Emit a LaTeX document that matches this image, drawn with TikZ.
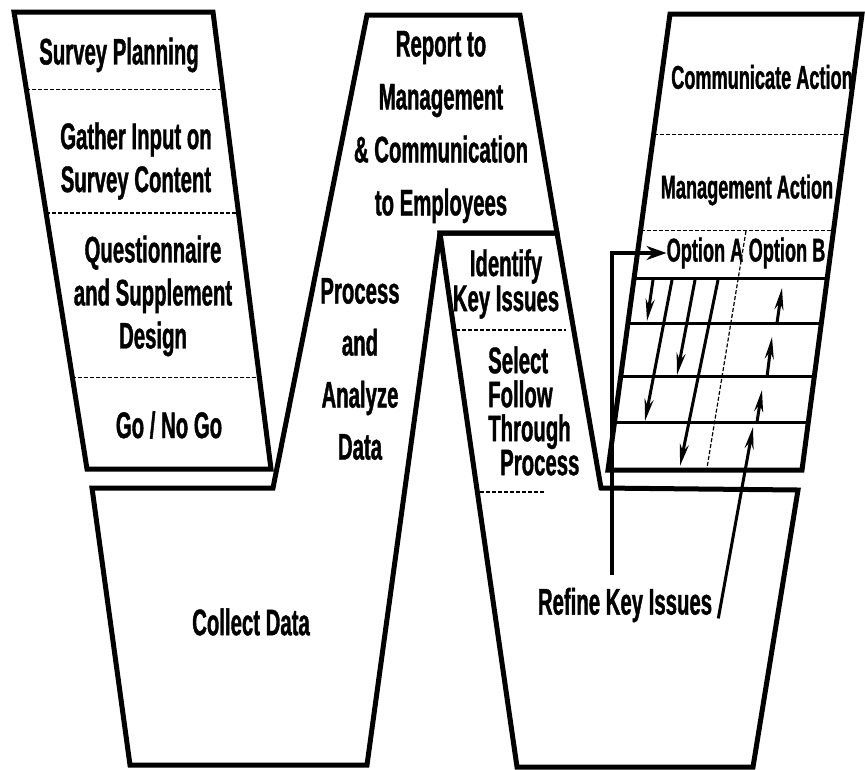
\documentclass[tikz,border=0pt]{standalone}
\usepackage{fontspec}
\newfontfamily\wfont{Liberation Sans Bold}[FakeStretch=0.55, FakeBold=1]
\usetikzlibrary{arrows.meta,calc}
\tikzset{
    %Define standard arrow tip
    >={Stealth[length=22pt,width=9pt]},
    %Define style for the panels of the W
    panel/.style={
      draw=black,
      line width=5pt,
      line join=miter},
    %Define style for the dashed dividers
    divider/.style={
      draw=black,
      line width=1.2pt,
      dash pattern=on 4pt off 2pt},
    % rules of the option table
    rule/.style={
      draw=black,
      line width=3pt},
    %Define style for labels
    lbl/.style={
      font=\wfont\fontsize{37}{#1}\selectfont,
      align=center,
      inner sep=0pt},
    lbl/.default=43,
    rlbl/.style={
      lbl,
      font=\wfont\fontsize{33}{40}\selectfont},
    % Define arrow style
    arr/.style={
      ->,
      line width=3pt,}
}

\begin{document}
\begin{tikzpicture}[x=1pt, y=-1pt]
    \useasboundingbox (0,0) rectangle (865,769);

    % left panel
    \coordinate (pl1) at (14,12);
    \coordinate (pl2) at (213,12);
    \coordinate (pl3) at (271,469);
    \coordinate (pl4) at (87,469);
    \draw[panel] (pl1) -- (pl2) -- (pl3) -- (pl4) -- cycle;
    \draw[divider] ($(pl1)!.17!(pl4)$) -- ($(pl2)!.17!(pl3)$);
    \draw[divider] ($(pl1)!.44!(pl4)$) -- ($(pl2)!.44!(pl3)$);
    \draw[divider] ($(pl1)!.80!(pl4)$) -- ($(pl2)!.80!(pl3)$);

    \node[lbl] (plan) at (119,55) {Survey Planning};
    \node[lbl] (gather) at (136,161) {Gather Input on\\Survey Content};
    \node[lbl] (design) at (153,296) {Questionnaire\\and Supplement\\Design};
    \node[lbl] (gonogo) at (169,425) {Go / No Go};

    % middle panel
    \draw[panel] (92,488) -- (273,488) -- (367,15) -- (520,15) -- (557,233)
      -- (440,233) -- (367,765) -- (130,765) -- cycle;

    \node[lbl=53] (report) at (441,127)
      {Report to\\Management\\\& Communication\\to Employees};
    \node[lbl=52] (analyze) at (360,369) {Process\\and\\Analyze\\Data};
    \node[lbl] (collect) at (251,622) {Collect Data};

    % inner right panel
    \draw[panel] (440,233) -- (557,233) -- (601,488) -- (798,490)
      -- (753,767) -- (517,767) -- cycle;
    \draw[divider] (456,330) -- (566,330);
    \draw[divider] (480,492) -- (545,492);

    \node[lbl=35] (identify) at (506,284) {Identify\\Key Issues};
    \node[lbl=34, align=left, anchor=west] (select) at (488,411)
      {Select\\Follow\\Through\\\hspace*{12pt}Process};
    \node[lbl] (refine) at (625,605) {Refine Key Issues};

    % right panel
    \coordinate (pr1) at (670,14);
    \coordinate (pr2) at (862,14);
    \coordinate (pr3) at (802,470);
    \coordinate (pr4) at (608,470);
    \draw[panel] (pr1) -- (pr2) -- (pr3) -- (pr4) -- cycle;
    \draw[divider] ($(pr1)!.265!(pr4)$) -- ($(pr2)!.265!(pr3)$);
    \draw[divider] ($(pr1)!.474!(pr4)$) -- ($(pr2)!.474!(pr3)$);
    \draw[rule] ($(pr1)!.579!(pr4)$) -- ($(pr2)!.579!(pr3)$);
    \draw[rule] ($(pr1)!.678!(pr4)$) -- ($(pr2)!.678!(pr3)$);
    \draw[rule] ($(pr1)!.796!(pr4)$) -- ($(pr2)!.796!(pr3)$);
    \draw[rule] ($(pr1)!.895!(pr4)$) -- ($(pr2)!.895!(pr3)$);
    \draw[divider] (746,231) -- (707,468);

    \node[rlbl] (commact) at (762,77) {Communicate Action};
    \node[rlbl] (mgmtact) at (747,190) {Management Action};
    \node[rlbl] (optA) at (705,253) {Option A};
    \node[rlbl] (optB) at (787,253) {Option B};

    % option A runs down, option B runs up
    \draw[arr] (653,280) -- (647,321);
    \draw[arr] (672,280) -- (645,421);
    \draw[arr] (695,280) -- (677,375);
    \draw[arr] (718,280) -- (680,466);
    \draw[arr] (777,323) -- (782,288);
    \draw[arr] (767,377) -- (772,337);
    \draw[arr] (757,422) -- (762,390);

    % refine key issues feeds back
    \coordinate (trunk) at (612,575);
    \coordinate (tipB) at (753,427);
    \draw[arr, line width=4pt, -{Stealth[length=20pt,width=14pt]}]
      (trunk) |- (optA.west);
    \draw[arr] ([xshift=6pt,yshift=4pt]refine.south east) -- (tipB);
\end{tikzpicture}
\end{document}
